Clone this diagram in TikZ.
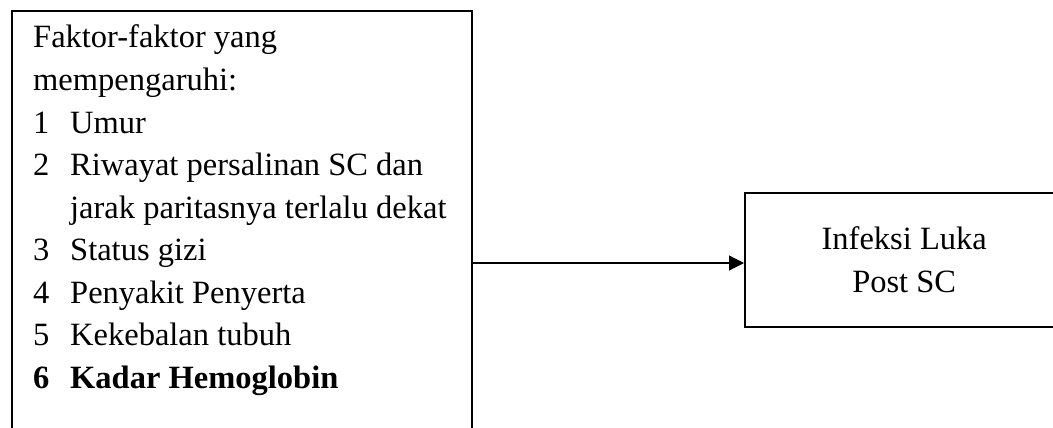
\documentclass[tikz,border=0pt]{standalone}
\usepackage{fontspec}
\setmainfont{Liberation Serif}
\usetikzlibrary{arrows.meta}
\begin{document}
\begin{tikzpicture}[x=1pt,y=-1pt,
  frame/.style={draw,line width=2.4pt,rectangle,inner sep=0pt},
  txt/.style={anchor=base west,inner sep=0pt,font=\fontsize{32.5}{40}\selectfont},
  link/.style={line width=1.2pt,-{Triangle[length=15pt,width=15pt]}}]
\useasboundingbox (0,0) rectangle (1053,428);
\clip (0,0) rectangle (1053,428);
% left frame (runs on below the page)
\node[frame,minimum width=460pt,minimum height=460pt,anchor=north west] (lbox) at (11,10) {};
% right frame (runs on past the right edge)
\node[frame,minimum width=318pt,minimum height=134pt,anchor=north west,
      align=center,font=\fontsize{32.5}{43}\selectfont] (rbox) at (744,192)
      {Infeksi Luka\\Post SC};
% factor list
\node[txt] (h1) at (33,48) {Faktor-faktor yang};
\node[txt] (h2) at (33,90.5) {mempengaruhi:};
\node[txt] (n1) at (33,133) {1};
\node[txt] (t1) at (70,133) {Umur};
\node[txt] (n2) at (33,175.5) {2};
\node[txt] (t2) at (70,175.5) {Riwayat persalinan SC dan};
\node[txt] (t2b) at (70,218) {jarak paritasnya terlalu dekat};
\node[txt] (n3) at (33,260.5) {3};
\node[txt] (t3) at (70,260.5) {Status gizi};
\node[txt] (n4) at (33,303) {4};
\node[txt] (t4) at (70,303) {Penyakit Penyerta};
\node[txt] (n5) at (33,345.5) {5};
\node[txt] (t5) at (70,345.5) {Kekebalan tubuh};
\node[txt,font=\fontsize{32.5}{40}\selectfont\bfseries] (n6) at (33,388) {6};
\node[txt,font=\fontsize{32.5}{40}\selectfont\bfseries] (t6) at (70,388) {Kadar Hemoglobin};
% connector
\coordinate (ay) at (0,263);
\draw[link] (lbox.east |- ay) -- (rbox.west |- ay);
\end{tikzpicture}
\end{document}
